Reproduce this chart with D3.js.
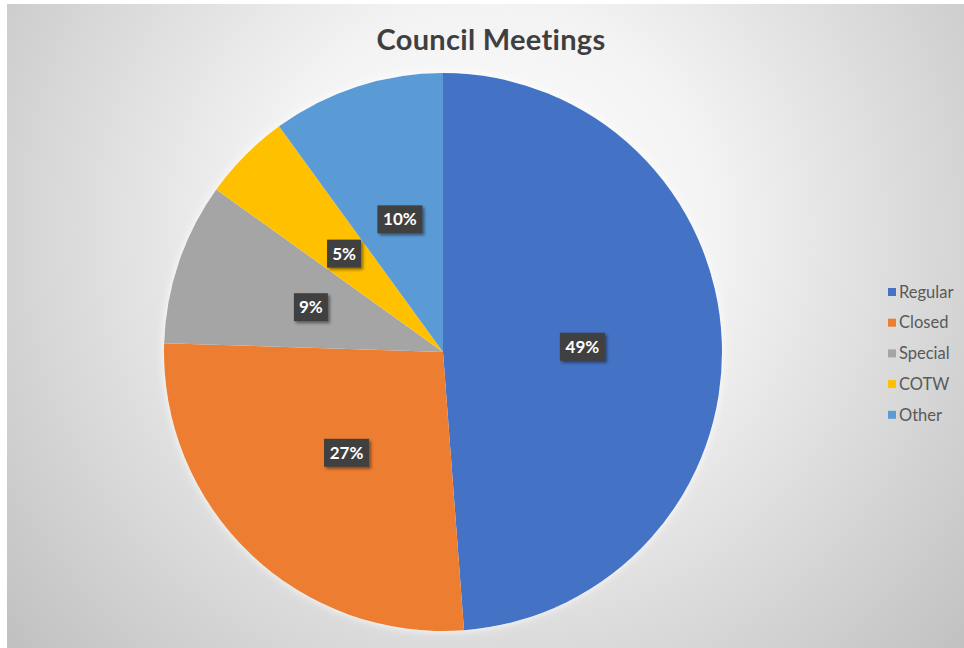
<!DOCTYPE html>
<html>
<head>
<meta charset="utf-8">
<script src="https://cdn.jsdelivr.net/npm/d3@7"></script>
<style>
  html, body { margin: 0; padding: 0; background: #fff; }
  svg { display: block; }
</style>
</head>
<body>
<div id="canvas"></div>
<script>
// data (share of meetings, %)
var categories = ['Regular', 'Closed', 'Special', 'COTW', 'Other'];
var values = [48.8, 26.7, 9.4, 5.1, 10.0];
var colors = ['#4472C4', '#ED7D31', '#A5A5A5', '#FFC000', '#5B9BD5'];
var title = 'Council Meetings';

var W = 964, H = 648;
var cx = 443, cy = 352, r = 279;

var svg = d3.select('#canvas')
    .append('svg')
    .attr('width', W)
    .attr('height', H);

var defs = svg.append('defs');

// background gradient
var bg = defs.append('radialGradient')
    .attr('id', 'bg')
    .attr('gradientUnits', 'userSpaceOnUse')
    .attr('cx', 490).attr('cy', 230).attr('r', 640);
bg.append('stop').attr('offset', '0%').attr('stop-color', '#ffffff');
bg.append('stop').attr('offset', '35%').attr('stop-color', '#f3f3f3');
bg.append('stop').attr('offset', '100%').attr('stop-color', '#c0c0c0');

// drop shadow for labels
var sh = defs.append('filter').attr('id', 'shadow')
    .attr('x', '-30%').attr('y', '-30%').attr('width', '160%').attr('height', '170%');
sh.append('feDropShadow')
    .attr('dx', 2).attr('dy', 2).attr('stdDeviation', 1.5)
    .attr('flood-color', '#000').attr('flood-opacity', 0.45);

// soft glow under the pie
var glow = defs.append('filter').attr('id', 'glow')
    .attr('x', '-10%').attr('y', '-10%').attr('width', '120%').attr('height', '120%');
glow.append('feDropShadow')
    .attr('dx', 0).attr('dy', 0).attr('stdDeviation', 4)
    .attr('flood-color', '#fff').attr('flood-opacity', 0.9);

svg.append('rect')
    .attr('x', 7).attr('y', 4)
    .attr('width', W - 7).attr('height', H - 4)
    .attr('fill', 'url(#bg)');

svg.append('text')
    .attr('x', 491).attr('y', 50)
    .attr('text-anchor', 'middle')
    .style('font-family', 'Lato, "Open Sans", sans-serif')
    .style('font-weight', 'bold')
    .style('font-size', '29px')
    .style('letter-spacing', '0.3px')
    .style('fill', '#3f3f3f')
    .text(title);

//pie
var data = categories.map(function(c, i){
    return {name: c, value: values[i], color: colors[i]};
});

var pie = d3.pie().sort(null).value(function(d){ return d.value; });
var arc = d3.arc().innerRadius(0).outerRadius(r);
var arcs = pie(data);
var total = d3.sum(values);

var g = svg.append('g').attr('transform', 'translate(' + cx + ',' + cy + ')');

g.append('circle').attr('r', r).attr('fill', '#fff').attr('filter', 'url(#glow)');

g.selectAll('.slice')
    .data(arcs)
    .enter()
    .append('path')
    .attr('class', 'slice')
    .attr('d', arc)
    .attr('fill', function(d){ return d.data.color; });

var labels = g.selectAll('.lbl')
    .data(arcs)
    .enter()
    .append('g')
    .attr('class', 'lbl')
    .attr('transform', function(d){
        var c = arc.centroid(d);
        return 'translate(' + c[0] + ',' + c[1] + ')';
    });

labels.each(function(d){
    var el = d3.select(this);
    var txt = Math.round(d.data.value / total * 100) + '%';
    var bw = txt.length > 2 ? 45 : 34;
    el.append('rect')
        .attr('x', -bw / 2).attr('y', -14)
        .attr('width', bw).attr('height', 28)
        .attr('fill', '#404040')
        .attr('filter', 'url(#shadow)');
    el.append('text')
        .attr('text-anchor', 'middle')
        .attr('dy', '0.36em')
        .style('font-family', 'Lato, "Open Sans", sans-serif')
        .style('font-weight', 'bold')
        .style('font-size', '17px')
        .style('fill', '#ffffff')
        .text(txt);
});

//legend
var legend = svg.append('g').attr('transform', 'translate(888,292)');
var items = legend.selectAll('.item')
    .data(data)
    .enter()
    .append('g')
    .attr('class', 'item')
    .attr('transform', function(d, i){ return 'translate(0,' + (i * 30.7) + ')'; });

items.append('rect')
    .attr('x', 0).attr('y', -4)
    .attr('width', 8).attr('height', 8)
    .attr('fill', function(d){ return d.color; });

items.append('text')
    .attr('x', 11)
    .attr('dy', '0.35em')
    .style('font-family', 'Lato, "Open Sans", sans-serif')
    .style('font-size', '16.5px')
    .style('fill', '#595959')
    .text(function(d){ return d.name; });
</script>
</body>
</html>
